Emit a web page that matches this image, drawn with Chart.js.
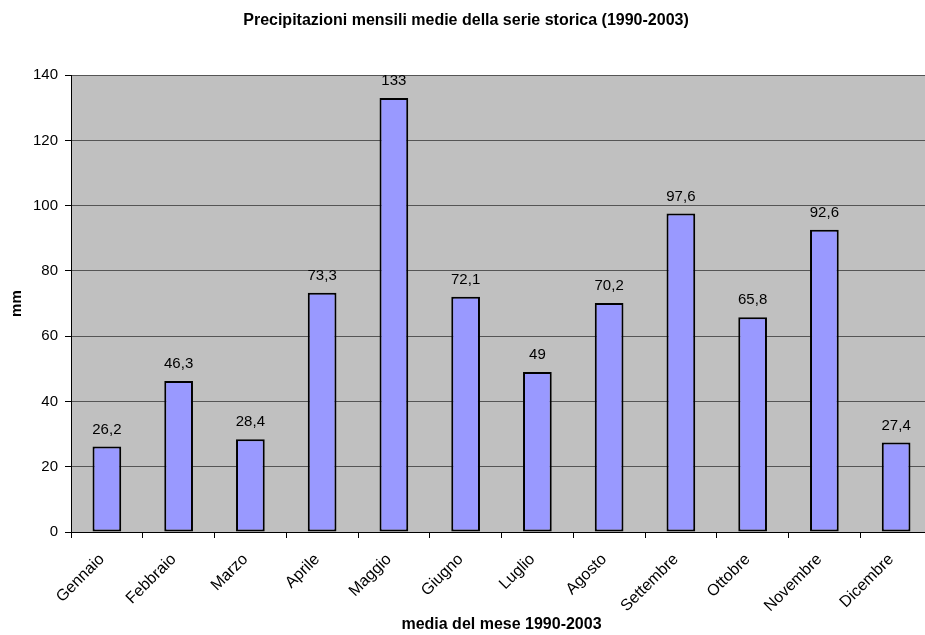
<!DOCTYPE html>
<html>
<head>
<meta charset="utf-8">
<script src="https://cdn.jsdelivr.net/npm/chart.js@4.4.0/dist/chart.umd.min.js"></script>
<style>
  html, body { margin: 0; padding: 0; background: #ffffff; overflow: hidden; }
  #wrap { width: 925px; height: 635px; overflow: hidden; }
</style>
</head>
<body>
<div id="wrap"><canvas id="pioggiaChart" width="932" height="635"></canvas></div>
<script>
const mesi = ['Gennaio', 'Febbraio', 'Marzo', 'Aprile', 'Maggio', 'Giugno', 'Luglio', 'Agosto', 'Settembre', 'Ottobre', 'Novembre', 'Dicembre'];
const precipitazioni = [26.2, 46.3, 28.4, 73.3, 133, 72.1, 49, 70.2, 97.6, 65.8, 92.6, 27.4];
const titolo = 'Precipitazioni mensili medie della serie storica (1990-2003)';
const titoloX = 'media del mese 1990-2003';
const titoloY = 'mm';

const FONT = 'Arial, "Liberation Sans", sans-serif';

// sfondo grigio dell'area del grafico
const sfondoPlugin = {
    id: 'sfondo',
    beforeDraw(chart) {
        const { ctx, chartArea } = chart;
        ctx.save();
        ctx.fillStyle = '#c0c0c0';
        ctx.fillRect(chartArea.left, chartArea.top, chartArea.right - chartArea.left, chartArea.bottom - chartArea.top);
        ctx.restore();
    }
};

// etichette dei valori sopra le barre
const etichettePlugin = {
    id: 'etichette',
    afterDatasetsDraw(chart) {
        const { ctx } = chart;
        const meta = chart.getDatasetMeta(0);
        ctx.save();
        ctx.font = '15px ' + FONT;
        ctx.fillStyle = '#000000';
        ctx.textAlign = 'center';
        ctx.textBaseline = 'middle';
        meta.data.forEach((bar, i) => {
            const testo = String(precipitazioni[i]).replace('.', ',');
            ctx.fillText(testo, bar.x, bar.y - 17);
        });
        ctx.restore();
    }
};

document.addEventListener('DOMContentLoaded', () => {
    const ctx = document.getElementById('pioggiaChart').getContext('2d');
    new Chart(ctx, {
        type: 'bar',
        data: {
            labels: mesi,
            datasets: [{
                data: precipitazioni,
                backgroundColor: '#9999ff',
                borderColor: '#000000',
                borderWidth: 2,
                borderSkipped: false,
                barPercentage: 0.4,
                categoryPercentage: 1
            }]
        },
        options: {
            responsive: false,
            animation: false,
            layout: { padding: 0 },
            plugins: {
                legend: { display: false },
                tooltip: { enabled: false },
                title: {
                    display: true,
                    text: titolo,
                    color: '#000000',
                    font: { family: FONT, size: 16, weight: 'bold' },
                    padding: { top: 11, bottom: 45 }
                }
            },
            scales: {
                x: {
                    offset: true,
                    grid: {
                        offset: true,
                        drawOnChartArea: false,
                        drawTicks: true,
                        tickLength: 6,
                        color: '#000000'
                    },
                    border: { color: '#000000', width: 1 },
                    ticks: {
                        minRotation: 45,
                        maxRotation: 45,
                        padding: 12,
                        labelOffset: -5,
                        color: '#000000',
                        font: { family: FONT, size: 16 }
                    },
                    title: {
                        display: true,
                        text: titoloX,
                        color: '#000000',
                        font: { family: FONT, size: 16, weight: 'bold' },
                        padding: { top: 4, bottom: 1 }
                    },
                    afterFit(scale) { scale.height = 103; }
                },
                y: {
                    min: 0,
                    max: 140,
                    ticks: {
                        stepSize: 20,
                        padding: 7,
                        color: '#000000',
                        font: { family: FONT, size: 15 }
                    },
                    grid: {
                        color: '#555555',
                        lineWidth: 1,
                        tickLength: 6,
                        tickColor: '#000000'
                    },
                    border: { color: '#000000', width: 1 },
                    title: {
                        display: true,
                        text: titoloY,
                        color: '#000000',
                        font: { family: FONT, size: 15, weight: 'bold' },
                        padding: { top: 8, bottom: 0 }
                    },
                    afterFit(scale) { scale.width = 71; }
                }
            }
        },
        plugins: [sfondoPlugin, etichettePlugin]
    });
});
</script>
</body>
</html>
